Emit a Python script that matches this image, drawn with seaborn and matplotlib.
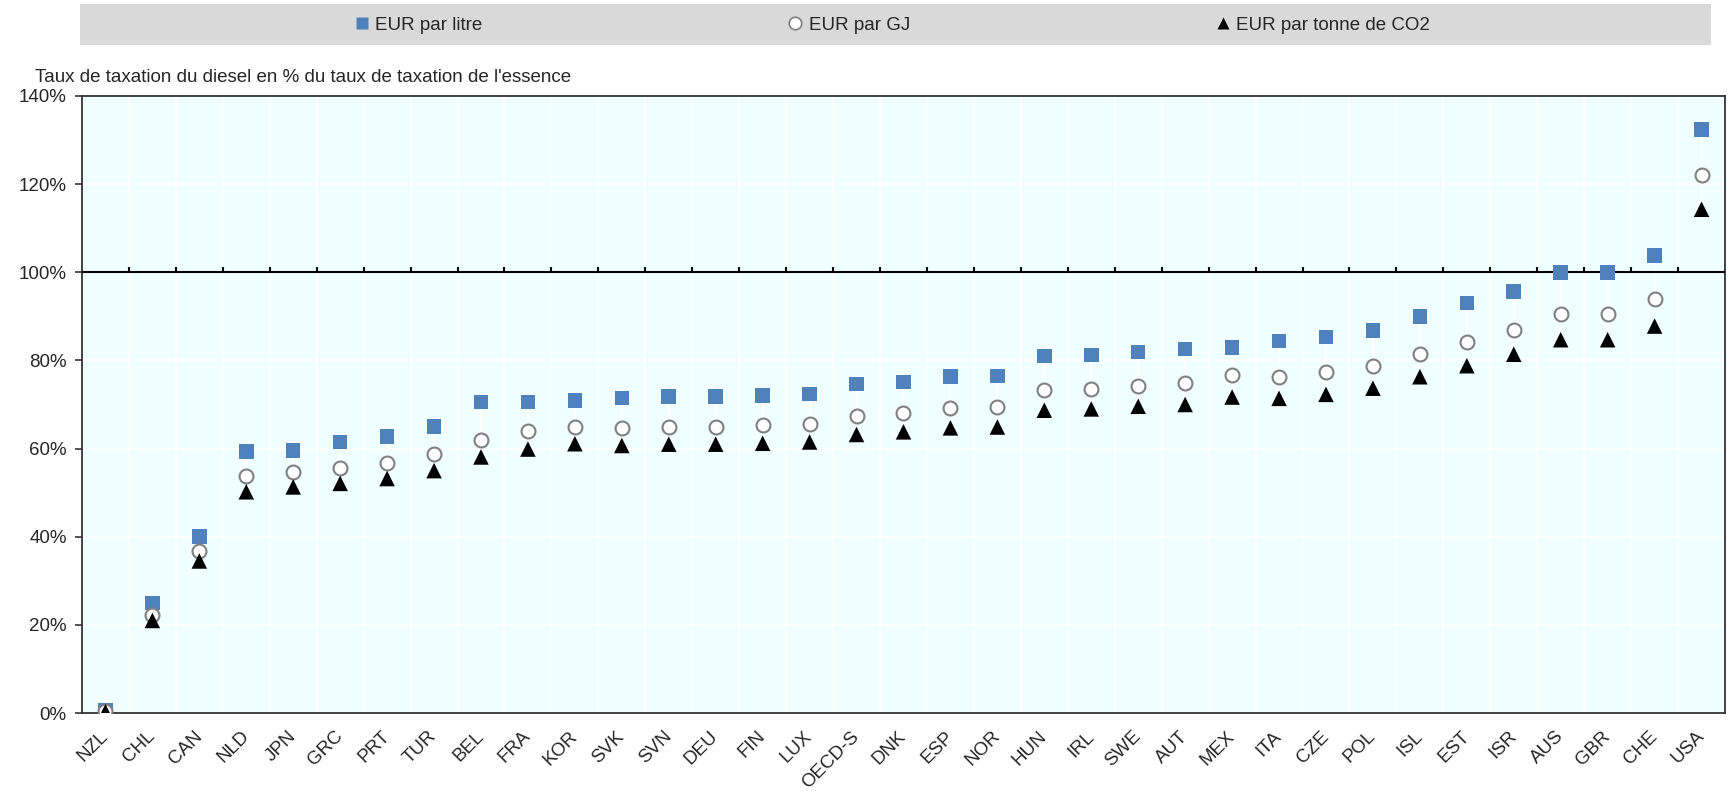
import numpy as np
import pandas as pd
import matplotlib
matplotlib.use("Agg")
import matplotlib.pyplot as plt
from matplotlib.patches import Rectangle
from matplotlib.lines import Line2D
import seaborn as sns

# Diesel tax rate as % of gasoline tax rate, by country
countries = ["NZL", "CHL", "CAN", "NLD", "JPN", "GRC", "PRT", "TUR", "BEL", "FRA",
             "KOR", "SVK", "SVN", "DEU", "FIN", "LUX", "OECD-S", "DNK", "ESP", "NOR",
             "HUN", "IRL", "SWE", "AUT", "MEX", "ITA", "CZE", "POL", "ISL", "EST",
             "ISR", "AUS", "GBR", "CHE", "USA"]
eur_litre = [0.7, 25.0, 40.1, 59.4, 59.6, 61.5, 62.8, 65.0, 70.6, 70.6,
             70.9, 71.5, 71.8, 71.8, 72.0, 72.4, 74.7, 75.1, 76.3, 76.5,
             81.0, 81.2, 81.9, 82.6, 83.0, 84.4, 85.3, 86.8, 90.0, 93.0,
             95.6, 100.0, 100.0, 103.8, 132.4]
eur_gj = [0.4, 22.3, 36.8, 53.7, 54.7, 55.6, 56.7, 58.8, 62.0, 63.9,
          65.0, 64.7, 65.0, 65.0, 65.3, 65.6, 67.5, 68.1, 69.1, 69.4,
          73.3, 73.6, 74.2, 74.8, 76.6, 76.3, 77.3, 78.7, 81.4, 84.1,
          86.9, 90.5, 90.5, 93.9, 122.1]
eur_co2 = [0.3, 21.0, 34.5, 50.2, 51.3, 52.1, 53.2, 55.0, 58.1, 59.9,
           61.1, 60.7, 61.0, 61.0, 61.2, 61.5, 63.2, 63.8, 64.7, 64.9,
           68.7, 69.0, 69.6, 70.0, 71.7, 71.4, 72.3, 73.7, 76.3, 78.8,
           81.4, 84.7, 84.7, 87.8, 114.3]
series_names = ["EUR par litre", "EUR par GJ", "EUR par tonne de CO2"]
ylabel_text = "Taux de taxation du diesel en % du taux de taxation de l'essence"

df = pd.DataFrame({"pays": countries, "litre": eur_litre, "gj": eur_gj, "co2": eur_co2})

BLUE = "#4F81BD"
GREY_EDGE = "#808080"
BG = "#F0FFFF"
FRAME = "#333333"
FS = 13.5

sns.set_theme(style="white")
plt.rcParams["font.family"] = ["Liberation Sans", "DejaVu Sans"]
plt.rcParams["font.size"] = FS

fig = plt.figure(figsize=(17.29, 7.92), dpi=100)
ax = fig.add_axes([0.0474, 0.0997, 0.9503, 0.7791])
ax.set_facecolor(BG)

n = len(countries)
pos = np.arange(n)
bounds = np.arange(n - 1) + 0.5

# white high-low connector behind the markers
ax.vlines(pos, df["co2"], df["litre"], color="white", lw=1.5, zorder=2)

sns.scatterplot(data=df, x="pays", y="litre", marker="s", s=110, color=BLUE,
                edgecolor="none", ax=ax, zorder=4)
sns.scatterplot(data=df, x="pays", y="gj", marker="o", s=100, color="white",
                edgecolor=GREY_EDGE, linewidth=1.5, ax=ax, zorder=5)
sns.scatterplot(data=df, x="pays", y="co2", marker="^", s=125, color="black",
                edgecolor="none", ax=ax, zorder=6)

ax.set_xlim(-0.5, n - 0.5)
ax.set_ylim(0, 140)
ax.set_yticks(np.arange(0, 141, 20))
ax.set_yticklabels([f"{v}%" for v in range(0, 141, 20)])
ax.set_xticks(pos)
ax.set_xticklabels(countries, rotation=45, ha="right", va="center",
                   rotation_mode="anchor")
ax.set_xlabel("")
ax.set_ylabel("")

# grid: white lines, vertical ones on category boundaries
ax.set_xticks(bounds, minor=True)
ax.grid(which="minor", axis="x", color="white", lw=1.3, zorder=1)
ax.grid(which="major", axis="y", color="white", lw=1.3, zorder=1)
ax.grid(which="major", axis="x", visible=False)
ax.set_axisbelow(True)

ax.tick_params(axis="x", which="both", length=0, pad=15, labelsize=FS)
ax.tick_params(axis="y", which="major", length=5, width=1.2, color=FRAME,
               direction="out", left=True, pad=6, labelsize=FS)

for sp in ax.spines.values():
    sp.set_visible(True)
    sp.set_color(FRAME)
    sp.set_linewidth(1.3)

# 100% reference line with upward ticks between categories
ax.axhline(100, color="black", lw=1.5, zorder=3)
ax.vlines(bounds, 100, 101.3, color="black", lw=1.5, zorder=3)

# y-axis title above the plot
fig.text(35 / 1729, 1 - 77 / 792, ylabel_text, fontsize=FS, ha="left", va="center")

# legend band
fig.patches.append(Rectangle((80 / 1729, 1 - 45 / 792), (1711 - 80) / 1729, 41 / 792,
                             transform=fig.transFigure, facecolor="#D9D9D9",
                             edgecolor="none", zorder=0))
handles = [
    Line2D([], [], ls="none", marker="s", ms=9, color=BLUE, markeredgecolor="none"),
    Line2D([], [], ls="none", marker="o", ms=9, markerfacecolor="white",
           markeredgecolor=GREY_EDGE, markeredgewidth=1.2),
    Line2D([], [], ls="none", marker="^", ms=9, color="black", markeredgecolor="none"),
]
fig.legend(handles, series_names, loc="center", bbox_to_anchor=(0.516, 1 - 25 / 792),
           ncol=3, frameon=False, fontsize=FS, handlelength=0.8, handletextpad=0.3,
           columnspacing=16.3, borderpad=0)

fig.savefig("out.png", dpi=100)
